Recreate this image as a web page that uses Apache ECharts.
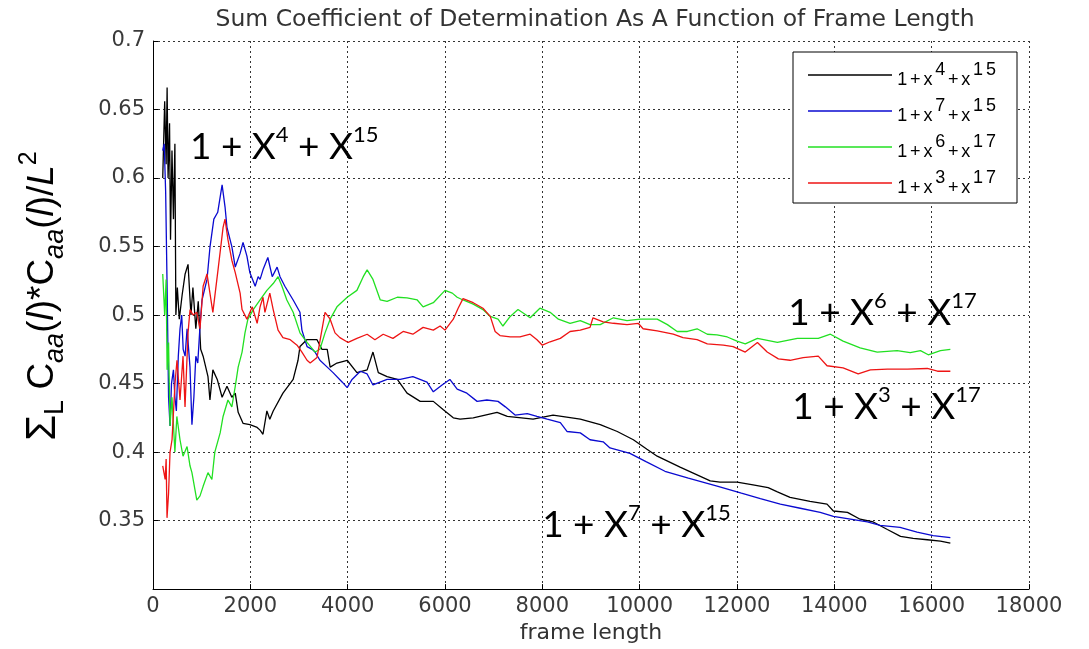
<!DOCTYPE html>
<html>
<head>
<meta charset="utf-8">
<script src="https://cdn.jsdelivr.net/npm/echarts@6/dist/echarts.min.js"></script>
<style>
  html, body { margin: 0; padding: 0; background: #fff; }
  #chart { width: 1089px; height: 649px; }
</style>
</head>
<body>
<div id="chart"></div>
<script>
// [frame length, sum coefficient]
const curveX4X15 = [
  [200, 0.60], [240, 0.656], [270, 0.61], [290, 0.666], [310, 0.60], [340, 0.64], [360, 0.555],
  [390, 0.62], [420, 0.57], [450, 0.625], [470, 0.50], [500, 0.52], [540, 0.497], [600, 0.515],
  [660, 0.53], [720, 0.537], [780, 0.50], [820, 0.52], [880, 0.49], [930, 0.51], [980, 0.475],
  [1030, 0.47], [1130, 0.455], [1170, 0.438], [1230, 0.46], [1320, 0.453], [1420, 0.44],
  [1520, 0.448], [1620, 0.44], [1690, 0.443], [1750, 0.429], [1850, 0.421], [1990, 0.42],
  [2140, 0.418], [2200, 0.416], [2260, 0.413], [2340, 0.43], [2400, 0.424], [2470, 0.43],
  [2670, 0.443], [2880, 0.453], [2980, 0.467], [3020, 0.477], [3160, 0.482], [3370, 0.482],
  [3470, 0.475], [3580, 0.475], [3640, 0.462], [3780, 0.465], [3990, 0.467], [4190, 0.458],
  [4400, 0.46], [4520, 0.473], [4630, 0.458], [4810, 0.455], [5020, 0.453], [5220, 0.443],
  [5490, 0.437], [5760, 0.437], [5960, 0.431], [6170, 0.425], [6310, 0.424], [6580, 0.425],
  [7070, 0.429], [7280, 0.426], [7810, 0.424], [8220, 0.427], [8780, 0.424], [9190, 0.42],
  [9540, 0.415], [9870, 0.409], [10150, 0.402], [10360, 0.397], [10830, 0.389], [11450, 0.379],
  [11650, 0.378], [12000, 0.378], [12330, 0.376], [12640, 0.374], [12830, 0.371], [13090, 0.367],
  [13500, 0.364], [13850, 0.362], [13980, 0.357], [14270, 0.356], [14530, 0.351], [14800, 0.349],
  [15090, 0.3435], [15360, 0.3385], [15620, 0.337], [15910, 0.336], [16180, 0.335], [16384, 0.3335]
]
const curveX7X15 = [
  [200, 0.62], [230, 0.625], [260, 0.59], [290, 0.52], [320, 0.44], [350, 0.419], [380, 0.45],
  [420, 0.46], [450, 0.44], [480, 0.43], [520, 0.47], [555, 0.49], [590, 0.50], [620, 0.475],
  [660, 0.47], [700, 0.49], [760, 0.462], [800, 0.42], [840, 0.44], [880, 0.47], [920, 0.465],
  [966, 0.492], [1007, 0.511], [1110, 0.526], [1172, 0.55], [1250, 0.57], [1330, 0.575],
  [1420, 0.595], [1480, 0.579], [1520, 0.564], [1620, 0.55], [1690, 0.535], [1790, 0.545],
  [1850, 0.553], [1930, 0.543], [1990, 0.531], [2100, 0.521], [2160, 0.528], [2200, 0.526],
  [2260, 0.533], [2360, 0.542], [2450, 0.528], [2550, 0.535], [2610, 0.528], [2710, 0.521],
  [2880, 0.511], [3020, 0.502], [3060, 0.489], [3165, 0.477], [3270, 0.475], [3330, 0.473],
  [3430, 0.467], [3580, 0.462], [3700, 0.458], [3890, 0.451], [3990, 0.447], [4090, 0.453],
  [4260, 0.459], [4400, 0.457], [4520, 0.449], [4810, 0.453], [5080, 0.453], [5340, 0.455],
  [5630, 0.451], [5760, 0.444], [5940, 0.449], [6100, 0.453], [6250, 0.446], [6450, 0.443],
  [6660, 0.437], [6860, 0.438], [7090, 0.437], [7240, 0.433], [7440, 0.427], [7690, 0.428],
  [7890, 0.426], [8100, 0.424], [8370, 0.4215], [8510, 0.415], [8780, 0.414], [8980, 0.409],
  [9250, 0.4075], [9390, 0.403], [9800, 0.399], [10130, 0.393], [10520, 0.386], [11000, 0.381],
  [11610, 0.375], [12090, 0.37], [12480, 0.366], [12890, 0.362], [13300, 0.359], [13710, 0.356],
  [13980, 0.353], [14330, 0.351], [14680, 0.349], [14940, 0.3465], [15350, 0.345],
  [15700, 0.3415], [16030, 0.339], [16384, 0.3375]
]
const curveX6X17 = [
  [200, 0.53], [240, 0.50], [270, 0.526], [290, 0.46], [320, 0.48], [350, 0.419], [390, 0.44],
  [450, 0.40], [490, 0.426], [555, 0.409], [617, 0.397], [700, 0.404], [760, 0.39], [800, 0.385],
  [900, 0.365], [966, 0.368], [1030, 0.375], [1130, 0.385], [1210, 0.38], [1270, 0.40],
  [1380, 0.414], [1440, 0.426], [1540, 0.438], [1620, 0.433], [1690, 0.448], [1750, 0.462],
  [1830, 0.473], [1890, 0.487], [1950, 0.497], [2060, 0.504], [2200, 0.511], [2340, 0.518],
  [2470, 0.523], [2570, 0.528], [2650, 0.521], [2750, 0.511], [2880, 0.502], [3020, 0.487],
  [3165, 0.48], [3330, 0.473], [3430, 0.475], [3535, 0.487], [3640, 0.497], [3780, 0.506],
  [3990, 0.513], [4190, 0.518], [4320, 0.528], [4400, 0.533], [4520, 0.526], [4670, 0.511],
  [4810, 0.51], [5020, 0.513], [5220, 0.5125], [5430, 0.511], [5550, 0.506], [5760, 0.509],
  [6000, 0.518], [6150, 0.516], [6250, 0.513], [6370, 0.511], [6580, 0.508], [6780, 0.504],
  [6930, 0.499], [7090, 0.497], [7190, 0.492], [7340, 0.499], [7500, 0.504], [7750, 0.498],
  [7950, 0.505], [8160, 0.502], [8330, 0.497], [8570, 0.494], [8780, 0.496], [8980, 0.493],
  [9190, 0.493], [9460, 0.498], [9740, 0.496], [10010, 0.497], [10360, 0.497], [10570, 0.493],
  [10770, 0.488], [10980, 0.488], [11180, 0.49], [11390, 0.486], [11590, 0.4855], [11800, 0.484],
  [12000, 0.481], [12170, 0.479], [12420, 0.483], [12830, 0.48], [13240, 0.483], [13670, 0.483],
  [13920, 0.486], [14180, 0.481], [14530, 0.476], [14880, 0.473], [15290, 0.474],
  [15560, 0.4725], [15770, 0.474], [15930, 0.471], [16180, 0.474], [16384, 0.475]
]
const curveX3X17 = [
  [200, 0.39], [250, 0.38], [270, 0.395], [288, 0.352], [320, 0.37], [350, 0.40], [391, 0.409],
  [452, 0.45], [493, 0.467], [555, 0.438], [617, 0.47], [658, 0.433], [720, 0.487], [761, 0.504],
  [822, 0.50], [900, 0.502], [966, 0.49], [1030, 0.521], [1110, 0.53], [1230, 0.502],
  [1336, 0.533], [1440, 0.564], [1480, 0.57], [1540, 0.555], [1620, 0.54], [1690, 0.531],
  [1790, 0.516], [1830, 0.504], [1930, 0.497], [2040, 0.506], [2140, 0.494], [2200, 0.506],
  [2260, 0.513], [2300, 0.502], [2400, 0.516], [2470, 0.504], [2570, 0.489], [2670, 0.4835],
  [2820, 0.482], [2960, 0.478], [3060, 0.473], [3165, 0.467], [3230, 0.465], [3370, 0.469],
  [3470, 0.489], [3535, 0.502], [3640, 0.497], [3740, 0.487], [3840, 0.4835], [4010, 0.48],
  [4190, 0.483], [4400, 0.486], [4560, 0.482], [4730, 0.486], [4930, 0.483], [5140, 0.488],
  [5340, 0.486], [5550, 0.491], [5760, 0.489], [5900, 0.492], [6000, 0.489], [6170, 0.497],
  [6270, 0.505], [6370, 0.512], [6580, 0.509], [6780, 0.505], [6930, 0.499], [7030, 0.488],
  [7130, 0.485], [7340, 0.484], [7540, 0.484], [7750, 0.486], [7890, 0.482], [8000, 0.478],
  [8160, 0.4805], [8370, 0.483], [8570, 0.488], [8780, 0.489], [8980, 0.491], [9040, 0.498],
  [9250, 0.495], [9460, 0.494], [9740, 0.493], [9970, 0.494], [10070, 0.49], [10360, 0.4885],
  [10690, 0.486], [10890, 0.4835], [11180, 0.482], [11390, 0.479], [11720, 0.478],
  [11920, 0.477], [12170, 0.473], [12420, 0.48], [12620, 0.473], [12850, 0.468], [13090, 0.467],
  [13360, 0.469], [13670, 0.47], [13850, 0.463], [14180, 0.4615], [14490, 0.457], [14740, 0.46],
  [15090, 0.4605], [15500, 0.4605], [15910, 0.461], [16120, 0.459], [16384, 0.459]
]
const seriesNames = ['1+x^4+x^15', '1+x^7+x^15', '1+x^6+x^17', '1+x^3+x^17']
const seriesColors = ['#000000', '#0a0ad0', '#22e022', '#ee1414']
// big labels beside the curves: anchor at left-middle of text, in data units
const noteNames = ['1 + X^4 + X^15', '1 + X^7 + X^15', '1 + X^6 + X^17', '1 + X^3 + X^17']
const noteAnchors = [[760, 0.6242], [7996, 0.3486], [13052, 0.5032], [13135, 0.4347]]

// turns '1+x^4+x^15' into rich text with raised exponents
function toRich(str, base, sup) {
  return str.split(/\^(\d+)/).map((part, i) =>
    i % 2 ? '{' + sup + '|' + part + '}' : (part ? '{' + base + '|' + part + '}' : '')
  ).join('')
}
// legend text: one token per character so the spacing can be widened
function legendRich(str) {
  let out = '{h| }'
  str.split(/\^(\d+)/).forEach((part, i) => {
    for (const c of part) out += '{' + (i % 2 ? 's' : 'n') + '|' + c + '}'
  })
  return out
}

const myChart = echarts.init(document.getElementById('chart'), null, { renderer: 'canvas' })
const curves = [curveX4X15, curveX7X15, curveX6X17, curveX3X17]

const noteRich = {
  b: { fontFamily: 'Lato', fontSize: 37, lineHeight: 42, color: '#000', verticalAlign: 'bottom' },
  s: { fontFamily: 'Lato', fontSize: 22, lineHeight: 26, color: '#000', verticalAlign: 'top' },
}

const option = {
  animation: false,
  backgroundColor: '#fff',
  title: {
    text: 'Sum Coefficient of Determination As A Function of Frame Length',
    left: 590,
    top: 3,
    textAlign: 'center',
    textStyle: { fontFamily: 'DejaVu Sans', fontSize: 23.5, fontWeight: 'normal', color: '#333' },
  },
  grid: { left: 153, right: 60, top: 41, bottom: 58, containLabel: false },
  legend: {
    orient: 'vertical',
    left: 803,
    top: 56,
    padding: 5,
    z: 10,
    icon: 'rect',
    itemWidth: 84,
    itemHeight: 1.3,
    itemGap: 8,
    itemTextGap: 11,
    data: seriesNames,
    formatter: (name) => legendRich(name),
    textStyle: {
      rich: {
        h: { fontSize: 1, lineHeight: 28 },
        n: { fontFamily: 'Liberation Sans', fontSize: 18, lineHeight: 18, color: '#000', verticalAlign: 'bottom', padding: [0, 2.8, 0, 0] },
        s: { fontFamily: 'Liberation Sans', fontSize: 18, lineHeight: 16, color: '#000', verticalAlign: 'top', padding: [0, 2.8, 0, 0] },
      },
    },
  },
  graphic: [
    {
      type: 'rect',
      z: 3,
      shape: { x: 793, y: 52, width: 224, height: 151 },
      style: { fill: '#fff', stroke: '#000', lineWidth: 1 },
    },
  ],
  xAxis: {
    type: 'value',
    min: 0,
    max: 18000,
    interval: 2000,
    name: 'frame length',
    nameLocation: 'middle',
    nameGap: 30,
    nameTextStyle: { fontFamily: 'DejaVu Sans', fontSize: 22, color: '#333' },
    axisLine: { lineStyle: { color: '#000', width: 1 } },
    axisTick: { inside: true, length: 5, lineStyle: { color: '#000' } },
    axisLabel: {
      margin: 7,
      formatter: (v) => String(v),
      fontFamily: 'DejaVu Sans',
      fontSize: 21,
      color: '#3a3a3a',
    },
    splitLine: { show: true, lineStyle: { color: '#333', width: 1, type: [2, 3] } },
  },
  yAxis: {
    type: 'value',
    min: 0.3,
    max: 0.7,
    interval: 0.05,
    name: '{sig|Σ}{sub|L}{n| C}{subi|aa}{n|(}{it|l}{n|)*C}{subi|aa}{n|(}{it|l}{n|)/}{it|L}{sup|2}',
    nameLocation: 'middle',
    nameGap: 84,
    nameTextStyle: {
      padding: [0, 0, 0, 38],
      rich: {
        sig: { fontFamily: 'Liberation Sans', fontSize: 42, lineHeight: 52, color: '#000', verticalAlign: 'middle' },
        n: { fontFamily: 'Liberation Sans', fontSize: 37, lineHeight: 44, color: '#000', verticalAlign: 'middle' },
        it: { fontFamily: 'Liberation Sans', fontStyle: 'italic', fontSize: 37, lineHeight: 44, color: '#000', verticalAlign: 'middle' },
        sub: { fontFamily: 'Liberation Sans', fontSize: 27, lineHeight: 30, color: '#000', verticalAlign: 'bottom' },
        subi: { fontFamily: 'Liberation Sans', fontStyle: 'italic', fontSize: 27, lineHeight: 30, color: '#000', verticalAlign: 'bottom' },
        sup: { fontFamily: 'Liberation Sans', fontSize: 25, lineHeight: 28, color: '#000', verticalAlign: 'top' },
      },
    },
    axisLine: { show: true, lineStyle: { color: '#000', width: 1 } },
    axisTick: { show: true, inside: true, length: 5, lineStyle: { color: '#000' } },
    axisLabel: {
      showMinLabel: false,
      margin: 8,
      formatter: (v) => String(parseFloat(v.toFixed(2))),
      fontFamily: 'DejaVu Sans',
      fontSize: 21,
      color: '#3a3a3a',
    },
    splitLine: { show: true, lineStyle: { color: '#333', width: 1, type: [2, 3] } },
  },
  series: curves.map((data, i) => ({
    name: seriesNames[i],
    type: 'line',
    data: data,
    symbol: 'none',
    showSymbol: false,
    z: 2,
    lineStyle: { color: seriesColors[i], width: 1.3 },
    itemStyle: { color: seriesColors[i] },
    markPoint: {
      symbol: 'circle',
      symbolSize: 0,
      silent: true,
      data: [{
        coord: noteAnchors[i],
        label: {
          show: true,
          position: 'right',
          distance: 0,
          formatter: toRich(noteNames[i], 'b', 's'),
          rich: noteRich,
        },
      }],
    },
  })),
}

myChart.setOption(option)
</script>
</body>
</html>
